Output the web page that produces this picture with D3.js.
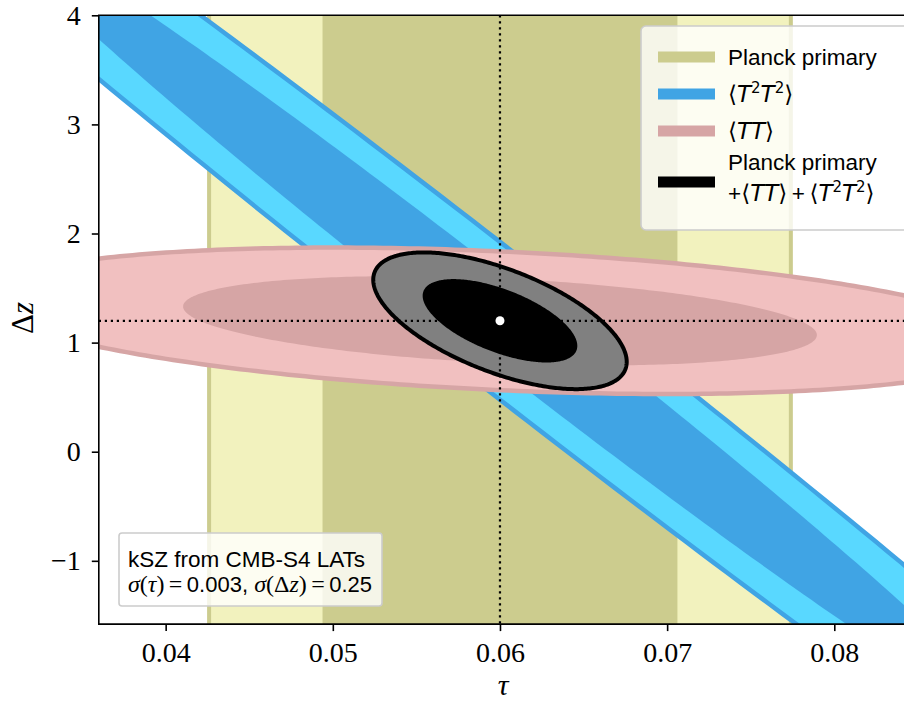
<!DOCTYPE html>
<html>
<head>
<meta charset="utf-8">
<script src="https://cdn.jsdelivr.net/npm/d3@7"></script>
<style>
  html, body { margin: 0; padding: 0; background: #fff; }
  svg { display: block; }
  text { white-space: pre; }
</style>
</head>
<body>
<svg id="chart" width="904" height="702"></svg>
<script>
// --- datos ---
const xTicks = [0.04, 0.05, 0.06, 0.07, 0.08];
const yTicks = [-1, 0, 1, 2, 3, 4];
const xDomain = [0.036, 0.0842];
const yDomain = [-1.58, 4];
const fiducialTau = 0.06;
const fiducialDz = 1.2;
const planckSigmaTau = 0.007;
const deltaChi2Levels = [2.30, 6.18];          // 68% y 95% (2 parámetros)
const ellipseNames = ["T2T2", "TT", "combined"];
const ellipseSigmaTau = [0.0199, 0.0125, 0.00305];
const ellipseSigmaDz = [2.38, 0.27, 0.252];
const ellipseRho = [-0.9925, -0.32, -0.6];
const legendLabels = ["Planck primary", "⟨T²T²⟩", "⟨TT⟩", "Planck primary\n+⟨TT⟩\u2009+\u2009⟨T²T²⟩"];
const noteLines = ["kSZ from CMB-S4 LATs", "σ(τ)\u2009=\u20090.003, σ(Δz)\u2009=\u20090.25"];

// --- estilos ---
const styles = {
  planck:   { inner: "#cccc8e", outer: "#f2f2be", edge: "#cccc8e", edgeWidth: 4 },
  T2T2:     { inner: "#40a4e4", outer: "#59d8ff", edge: "#40a4e4", edgeWidth: 4.5 },
  TT:       { inner: "#d6a5a5", outer: "#f1c0c0", edge: "#d6a5a5", edgeWidth: 4.5 },
  combined: { inner: "#000000", outer: "#808080", edge: "#000000", edgeWidth: 4 }
};
const legendColors = [styles.planck.inner, styles.T2T2.inner, styles.TT.inner, "#000"];
const serif = "Liberation Serif, serif";
const sans = "Liberation Sans, Arial, sans-serif";
const mathSans = "DejaVu Sans, sans-serif";

const svg = d3.select("#chart");
const plot = { left: 98.8, right: 904.5, top: 15.3, bottom: 624.1 };

const x = d3.scaleLinear().domain(xDomain).range([plot.left, plot.right]);
const y = d3.scaleLinear().domain(yDomain).range([plot.bottom, plot.top]);

svg.append("defs").append("clipPath").attr("id", "plot-clip")
  .append("rect")
  .attr("x", plot.left).attr("y", plot.top)
  .attr("width", plot.right - plot.left).attr("height", plot.bottom - plot.top);

const g = svg.append("g").attr("clip-path", "url(#plot-clip)");

// --- Planck primary: bandas verticales en tau ---
const r68 = Math.sqrt(deltaChi2Levels[0]);
const r95 = Math.sqrt(deltaChi2Levels[1]);
const planckOuter = [fiducialTau - r95 * planckSigmaTau, fiducialTau + r95 * planckSigmaTau];
const planckInner = [fiducialTau - r68 * planckSigmaTau, fiducialTau + r68 * planckSigmaTau];

g.append("rect")
  .attr("x", x(planckOuter[0])).attr("y", plot.top)
  .attr("width", x(planckOuter[1]) - x(planckOuter[0]))
  .attr("height", plot.bottom - plot.top)
  .attr("fill", styles.planck.outer);
g.append("rect")
  .attr("x", x(planckInner[0])).attr("y", plot.top)
  .attr("width", x(planckInner[1]) - x(planckInner[0]))
  .attr("height", plot.bottom - plot.top)
  .attr("fill", styles.planck.inner);
g.selectAll("line.planck-edge")
  .data(planckOuter)
  .join("line")
  .attr("class", "planck-edge")
  .attr("x1", d => x(d)).attr("x2", d => x(d))
  .attr("y1", plot.top).attr("y2", plot.bottom)
  .attr("stroke", styles.planck.edge)
  .attr("stroke-width", styles.planck.edgeWidth);

// --- elipses de confianza a partir de (sigma_tau, sigma_dz, rho) ---
const angles = d3.range(0, 360, 1).map(a => a * Math.PI / 180);
const line = d3.line().curve(d3.curveLinearClosed);

function ellipsePath(i, dchi2) {
  const r = Math.sqrt(dchi2);
  const st = ellipseSigmaTau[i], sz = ellipseSigmaDz[i], rho = ellipseRho[i];
  const k = Math.sqrt(1 - rho * rho);
  return line(angles.map(t => [
    x(fiducialTau + r * st * Math.cos(t)),
    y(fiducialDz + r * sz * (rho * Math.cos(t) + k * Math.sin(t)))
  ]));
}

ellipseNames.forEach((name, i) => {
  const st = styles[name];
  g.append("path")
    .attr("d", ellipsePath(i, deltaChi2Levels[1]))
    .attr("fill", st.outer)
    .attr("stroke", st.edge)
    .attr("stroke-width", st.edgeWidth);
  g.append("path")
    .attr("d", ellipsePath(i, deltaChi2Levels[0]))
    .attr("fill", st.inner);
});

// --- líneas de referencia y punto fiducial ---
g.append("line")
  .attr("x1", x(fiducialTau)).attr("x2", x(fiducialTau))
  .attr("y1", plot.top).attr("y2", plot.bottom)
  .attr("stroke", "#000").attr("stroke-width", 2.2)
  .attr("stroke-dasharray", "2.2,3.8");
g.append("line")
  .attr("x1", plot.left).attr("x2", plot.right)
  .attr("y1", y(fiducialDz)).attr("y2", y(fiducialDz))
  .attr("stroke", "#000").attr("stroke-width", 2.2)
  .attr("stroke-dasharray", "2.2,3.8");
g.append("circle")
  .attr("cx", x(fiducialTau)).attr("cy", y(fiducialDz))
  .attr("r", 4.5).attr("fill", "#fff");

// --- ejes ---
const xAxis = svg.append("g")
  .attr("transform", `translate(0,${plot.bottom})`)
  .call(d3.axisBottom(x).tickValues(xTicks).tickSize(7).tickPadding(11)
    .tickFormat(d3.format(".2f")));
const yAxis = svg.append("g")
  .attr("transform", `translate(${plot.left},0)`)
  .call(d3.axisLeft(y).tickValues(yTicks).tickSize(7).tickPadding(11)
    .tickFormat(d3.format("d")));

[xAxis, yAxis].forEach(ax => {
  ax.attr("font-family", null).attr("font-size", null);
  ax.select(".domain").remove();
  ax.selectAll(".tick line").attr("stroke", "#000").attr("stroke-width", 1.6);
  ax.selectAll(".tick text")
    .style("font-family", "'Liberation Serif'")
    .style("font-size", "28px")
    .attr("fill", "#000");
});

// marco (spines)
svg.append("path")
  .attr("d", `M${plot.right + 5},${plot.top}H${plot.left}V${plot.bottom}H${plot.right + 5}`)
  .attr("fill", "none").attr("stroke", "#000").attr("stroke-width", 1.6);

// etiquetas de ejes
svg.append("text")
  .attr("x", 503).attr("y", 695)
  .attr("text-anchor", "middle")
  .attr("font-family", serif).attr("font-size", 30)
  .attr("font-style", "italic")
  .text("τ");

const yLabel = svg.append("text")
  .attr("transform", "translate(33,318) rotate(-90)")
  .attr("text-anchor", "middle")
  .attr("font-family", serif).attr("font-size", 31);
yLabel.append("tspan").text("Δ");
yLabel.append("tspan").attr("font-style", "italic").text("z");

// --- texto con fórmulas: T en cursiva, ² como superíndice ---
function writeMath(textSel, str) {
  let raised = false;
  for (const ch of str) {
    const t = textSel.append("tspan");
    if (ch === "²") {
      t.text("2").attr("font-size", 15).attr("font-family", mathSans).attr("dy", -9);
      raised = true;
      continue;
    }
    if (raised) { t.attr("dy", 9); raised = false; }
    if (ch === "T") t.attr("font-family", mathSans).attr("font-style", "italic").attr("font-size", 23).text("T");
    else if (ch === "⟨" || ch === "⟩") t.attr("font-family", mathSans).attr("font-size", 23).text(ch);
    else t.text(ch);
  }
}

// --- leyenda ---
const legend = svg.append("g");
legend.append("rect")
  .attr("x", 641).attr("y", 26).attr("width", 300).attr("height", 204)
  .attr("rx", 5)
  .attr("fill", "#fff").attr("fill-opacity", 0.8)
  .attr("stroke", "#cccccc").attr("stroke-width", 1.6);

const legendHandleY = [57, 94, 131, 182];
const legendTextY = [[65], [102], [139], [170, 201]];
legendLabels.forEach((lab, i) => {
  legend.append("rect")
    .attr("x", 658).attr("y", legendHandleY[i] - 5.5)
    .attr("width", 57).attr("height", 11)
    .attr("fill", legendColors[i]);
  lab.split("\n").forEach((part, j) => {
    const t = legend.append("text")
      .attr("x", 728).attr("y", legendTextY[i][j])
      .attr("font-family", sans).attr("font-size", 22.5).attr("fill", "#000");
    writeMath(t, part);
  });
});

// --- recuadro de anotación ---
const note = svg.append("g");
note.append("rect")
  .attr("x", 119).attr("y", 533).attr("width", 263).attr("height", 73)
  .attr("rx", 3)
  .attr("fill", "#fff").attr("fill-opacity", 0.8)
  .attr("stroke", "#cccccc").attr("stroke-width", 1.6);
note.append("text")
  .attr("x", 128).attr("y", 567)
  .attr("font-family", sans).attr("font-size", 22.5)
  .text(noteLines[0]);
const noteMath = note.append("text")
  .attr("x", 128).attr("y", 592)
  .attr("font-family", sans).attr("font-size", 22);
for (const ch of noteLines[1]) {
  const t = noteMath.append("tspan").text(ch);
  if ("στz".includes(ch)) t.attr("font-family", serif).attr("font-style", "italic").attr("font-size", 24);
  else if ("()=Δ".includes(ch)) t.attr("font-family", serif).attr("font-size", 24);
}
</script>
</body>
</html>
